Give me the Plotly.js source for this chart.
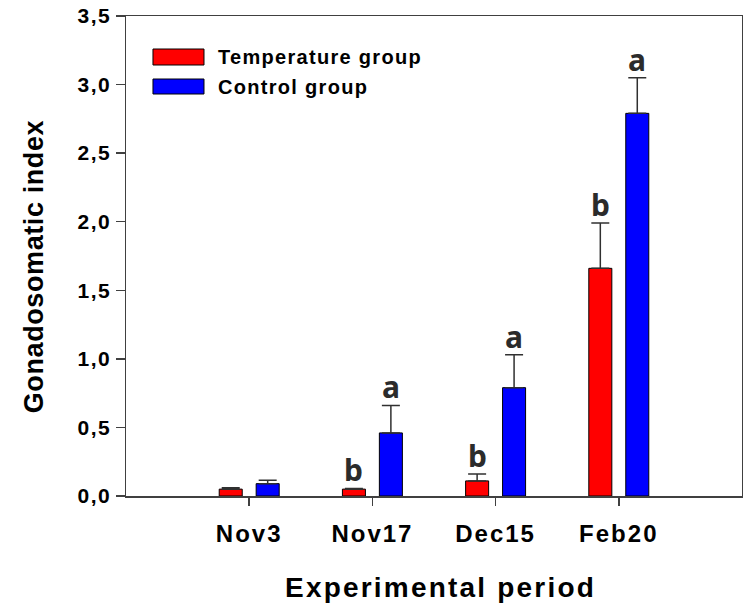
<!DOCTYPE html>
<html>
<head>
<meta charset="utf-8">
<script src="https://cdn.plot.ly/plotly-3.0.1.min.js"></script>
<style>
  html, body { margin: 0; padding: 0; background: #ffffff; }
  #chart { width: 743px; height: 613px; }
  .xtick text { letter-spacing: 2px; }
  .ytick text { letter-spacing: 1.5px; }
</style>
</head>
<body>
<div id="chart"></div>
<script>
// Sampling dates
const periods = ['Nov3', 'Nov17', 'Dec15', 'Feb20'];

// Mean gonadosomatic index and upper error (SE) per group
const temperatureGSI = [0.05, 0.05, 0.11, 1.66];
const temperatureErr = [0.01, 0.005, 0.05, 0.33];
const controlGSI = [0.09, 0.46, 0.79, 2.79];
const controlErr = [0.025, 0.2, 0.24, 0.26];

// Significance letters drawn above each bar
const temperatureLetters = ['', 'b', 'b', 'b'];
const controlLetters = ['', 'a', 'a', 'a'];

const seriesNames = ['Temperature group', 'Control group'];
const seriesColors = ['#ff0000', '#0000ff'];

const axisColor = '#404040';
const sansBold = '"Liberation Sans", Arial, sans-serif';

function barTrace(name, values, errs, color) {
  return {
    type: 'bar',
    name: name,
    x: periods,
    y: values,
    marker: { color: color, line: { color: '#000000', width: 1 } },
    error_y: {
      type: 'data', symmetric: false,
      array: errs, arrayminus: errs.map(() => 0),
      color: '#303030', thickness: 1.5, width: 9
    },
    hoverinfo: 'x+y'
  };
}

const traces = [
  barTrace(seriesNames[0], temperatureGSI, temperatureErr, seriesColors[0]),
  barTrace(seriesNames[1], controlGSI, controlErr, seriesColors[1])
];

// Half of a group slot, in pixels, used to centre letters over each bar
const slotShift = 18.5;

const annotations = [];
function addLetters(letters, values, errs, shift) {
  letters.forEach((t, i) => {
    if (!t) return;
    annotations.push({
      x: periods[i], y: values[i] + errs[i], xref: 'x', yref: 'y',
      text: t, showarrow: false, xanchor: 'center', yanchor: 'bottom',
      xshift: shift, yshift: -4,
      font: { family: '"Noto Sans", sans-serif', size: 30, color: '#2b2b2b', weight: 'bold' }
    });
  });
}
addLetters(temperatureLetters, temperatureGSI, temperatureErr, -slotShift);
addLetters(controlLetters, controlGSI, controlErr, slotShift);

// Axis titles
annotations.push({
  xref: 'paper', yref: 'paper', x: 0.511, y: -0.19,
  xanchor: 'center', yanchor: 'middle', showarrow: false,
  text: '<b><span style="letter-spacing:2.2px">Experimental period</span></b>',
  font: { family: sansBold, size: 28, color: '#000000' }
});
annotations.push({
  xref: 'paper', yref: 'paper', x: -0.149, y: 0.477,
  xanchor: 'center', yanchor: 'middle', showarrow: false, textangle: -90,
  text: '<b><span style="letter-spacing:0.6px">Gonadosomatic index</span></b>',
  font: { family: sansBold, size: 27, color: '#000000' }
});

// Legend entries
const legendRows = [
  { y0: 0.8979, y1: 0.93125, ty: 0.9146 },
  { y0: 0.8375, y1: 0.86875, ty: 0.853 }
];
const shapes = [];
legendRows.forEach((r, k) => {
  shapes.push({
    type: 'rect', xref: 'paper', yref: 'paper',
    x0: 0.0438, x1: 0.1266, y0: r.y0, y1: r.y1,
    fillcolor: seriesColors[k], line: { color: '#000000', width: 1 }
  });
  annotations.push({
    xref: 'paper', yref: 'paper', x: 0.146, y: r.ty,
    xanchor: 'left', yanchor: 'middle', showarrow: false,
    text: '<b><span style="letter-spacing:1.3px">' + seriesNames[k] + '</span></b>',
    font: { family: sansBold, size: 20, color: '#000000' }
  });
});

const layout = {
  width: 743, height: 613,
  margin: { l: 126, r: 1, t: 16, b: 117 },
  paper_bgcolor: '#ffffff', plot_bgcolor: '#ffffff',
  separators: ', ',
  showlegend: false,
  barmode: 'group', bargap: 0.4, bargroupgap: 0.377,
  xaxis: {
    type: 'category', range: [-1, 4],
    showline: true, linecolor: axisColor, linewidth: 1.5, mirror: true,
    ticks: 'outside', ticklen: 8, tickwidth: 1.5, tickcolor: axisColor,
    ticklabelstandoff: 8,
    showgrid: false, zeroline: false,
    tickfont: { family: sansBold, size: 24, color: '#000000', weight: 'bold' }
  },
  yaxis: {
    range: [0, 3.5], dtick: 0.5, tick0: 0, tickformat: '.1f',
    showline: true, linecolor: axisColor, linewidth: 1.5, mirror: true,
    ticks: 'outside', ticklen: 9, tickwidth: 1.5, tickcolor: axisColor,
    showgrid: false, zeroline: false,
    tickfont: { family: sansBold, size: 21, color: '#000000', weight: 'bold' }
  },
  annotations: annotations,
  shapes: shapes
};

Plotly.newPlot('chart', traces, layout, { displayModeBar: false, staticPlot: true });
</script>
</body>
</html>
